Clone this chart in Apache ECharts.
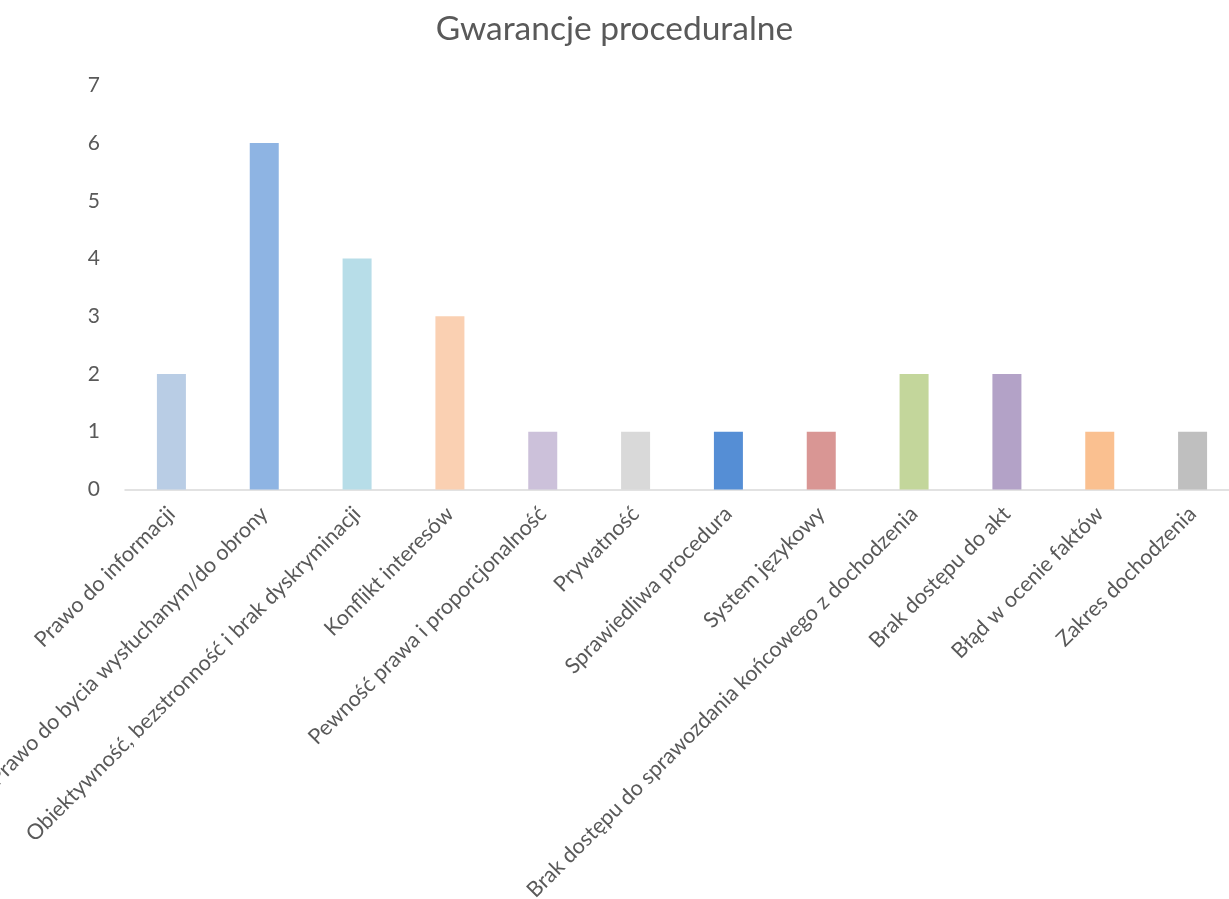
<!DOCTYPE html>
<html><head><meta charset="utf-8">
<script src="https://cdn.jsdelivr.net/npm/echarts@6/dist/echarts.min.js"></script>
<style>html,body{margin:0;padding:0;background:#fff}#c{width:1229px;height:899px}</style>
</head><body><div id="c"></div>
<script>
const categories = ["Prawo do informacji","Prawo do bycia wysłuchanym/do obrony","Obiektywność, bezstronność i brak dyskryminacji","Konflikt interesów","Pewność prawa i proporcjonalność","Prywatność","Sprawiedliwa procedura","System językowy","Brak dostępu do sprawozdania końcowego z dochodzenia","Brak dostępu do akt","Błąd w ocenie faktów","Zakres dochodzenia"];
const values = [2,6,4,3,1,1,1,1,2,2,1,1];
const colors = ["#B9CDE5","#8EB4E3","#B7DDE8","#FAD0B2","#CCC1DA","#D9D9D9","#558ED5","#D99694","#C3D69B","#B3A2C7","#FAC090","#BFBFBF"];
const yTicks = [0,1,2,3,4,5,6,7];
const FONT = "Lato";
const chart = echarts.init(document.getElementById('c'));
chart.setOption({
  animation:false,
  title:{text:"Gwarancje proceduralne",left:'center',top:7,textStyle:{fontFamily:FONT,fontSize:33.5,fontWeight:'normal',color:'#595959'}},
  grid:{left:125,width:1114,top:85.4,height:404,containLabel:false,outerBoundsMode:'none'},
  xAxis:{type:'category',data:categories,
    axisLine:{lineStyle:{color:'#D9D9D9',width:1.5}},axisTick:{show:false},
    axisLabel:{rotate:45,interval:0,fontFamily:FONT,fontSize:21.5,color:'#595959',margin:21}},
  yAxis:{type:'value',min:yTicks[0],max:yTicks[yTicks.length-1],interval:1,
    splitLine:{show:false},axisLine:{show:false},axisTick:{show:false},
    axisLabel:{fontFamily:FONT,fontSize:21,color:'#595959',margin:25}},
  series:[{type:'bar',barWidth:29,
    data:values.map((v,i)=>({value:v,itemStyle:{color:colors[i]}}))}]
});
</script></body></html>
